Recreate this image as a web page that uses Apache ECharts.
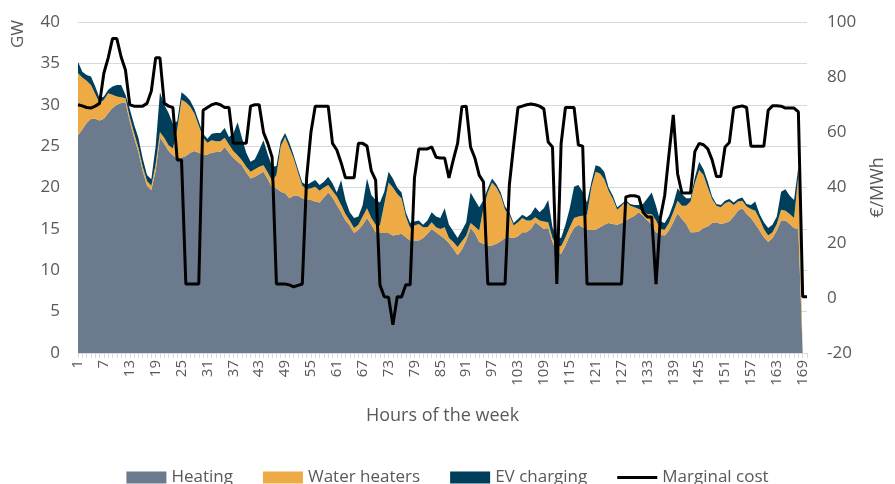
<!DOCTYPE html>
<html>
<head>
<meta charset="utf-8">
<script src="https://cdn.jsdelivr.net/npm/echarts@6/dist/echarts.min.js"></script>
<style>html,body{margin:0;padding:0;background:#fff}#c{width:895px;height:484px}</style>
</head>
<body>
<div id="c"></div>
<script>
// Hours of the week (category axis, 170 slots; area data covers 169 hours)
var hours = [];
for (var i = 1; i <= 170; i++) hours.push(String(i));

var heating = [26.3,27.0,27.8,28.3,28.3,28.1,28.3,29.0,29.6,30.0,30.2,30.3,28.0,26.0,24.3,22.0,20.2,19.7,22.0,26.0,
25.3,24.4,23.9,23.5,23.6,23.8,24.2,24.4,24.2,23.9,24.0,24.2,24.3,24.3,24.9,24.2,23.6,23.1,22.7,21.8,
21.1,21.3,21.6,21.9,21.0,20.0,19.9,19.5,19.3,18.7,19.0,19.0,18.7,18.5,18.5,18.3,18.2,18.8,19.4,18.8,
17.9,17.0,16.0,15.4,14.5,14.9,15.5,16.3,15.5,14.6,14.5,14.5,14.5,14.2,14.3,14.4,14.0,13.6,13.6,13.6,
13.9,14.4,15.0,14.6,14.2,13.8,13.3,12.6,11.8,12.5,13.6,15.1,14.5,13.4,13.2,13.0,13.0,13.2,13.5,13.9,
14.0,13.9,14.1,14.6,14.6,15.0,15.8,15.4,15.0,15.1,13.4,12.2,12.0,13.0,14.2,15.1,15.5,15.2,14.9,14.9,
14.9,15.2,15.5,15.7,15.6,15.5,15.7,16.0,16.3,16.6,17.0,16.6,16.0,15.5,14.6,14.3,14.2,14.8,15.8,16.9,
16.2,15.6,14.6,14.6,14.7,15.1,15.3,15.7,15.8,15.6,15.7,15.9,16.5,17.2,17.5,16.8,16.3,15.6,14.8,14.0,
13.4,13.9,14.8,16.0,16.0,15.6,15.1,15.0,0];

var waterHeaters = [7.5,6.3,5.1,4.1,3.0,2.1,2.3,2.4,1.6,1.0,0.7,0.5,0.5,0.6,0.5,0.5,0.6,0.5,0.8,0.7,
0.7,0.7,0.8,3.5,7.0,6.5,5.6,4.5,3.3,2.1,1.4,1.5,1.3,1.3,1.1,1.0,0.8,0.8,0.6,0.7,
0.8,0.9,0.9,0.8,0.8,0.8,1.6,5.5,6.8,6.1,4.5,2.8,1.5,1.3,1.4,1.8,1.4,1.2,0.9,0.8,
1.0,0.9,0.8,0.6,0.6,0.6,1.0,1.2,0.8,0.9,0.9,3.5,6.1,5.8,4.9,4.3,2.5,1.5,1.8,2.0,
1.3,0.8,0.8,0.6,0.8,1.4,0.6,0.8,1.0,1.0,0.6,0.6,0.8,1.4,4.3,6.4,7.6,6.8,5.5,3.4,
2.7,1.5,1.7,1.7,1.4,1.0,0.6,0.6,0.9,0.7,0.5,0.8,0.9,1.0,1.0,1.2,1.0,1.4,1.8,5.1,
7.0,6.5,5.5,3.9,3.0,1.8,2.1,2.3,1.5,1.0,0.4,0.5,0.8,1.3,1.4,0.7,0.7,0.9,1.2,1.5,
1.6,2.2,3.7,5.9,7.4,6.4,4.7,2.9,2.0,2.0,2.4,2.4,1.4,1.1,0.9,0.9,1.1,1.6,1.4,1.0,
0.8,0.7,0.8,1.3,1.2,1.2,1.2,6.5,0];

var evCharging = [1.4,0.7,0.7,1.0,0.9,0.6,0.4,0.4,1.0,1.4,1.5,0.4,1.0,1.0,1.2,1.0,0.7,0.8,2.2,4.8,
4.0,3.9,3.0,1.0,0.9,0.8,0.7,0.6,0.5,0.5,0.5,0.8,1.0,1.0,1.2,0.9,2.1,4.0,2.7,1.7,
1.2,1.2,2.0,3.0,2.2,1.7,1.1,0.6,0.5,0.6,0.4,0.4,0.4,0.5,0.7,0.8,0.7,0.7,1.0,0.9,
0.5,3.0,1.7,1.0,1.2,1.0,1.4,3.6,2.8,3.0,2.8,1.5,1.3,1.1,0.8,0.7,0.5,0.6,0.5,0.4,
0.3,0.8,1.2,1.3,1.3,2.3,1.6,1.3,1.1,1.3,1.6,3.7,3.2,2.8,1.0,0.5,0.5,0.4,0.4,0.4,
0.3,0.3,0.4,0.4,0.4,0.8,1.2,1.0,1.6,2.7,1.3,1.0,1.0,1.5,2.3,3.8,3.8,2.9,1.5,0.6,
0.8,0.8,0.9,0.4,0.4,0.3,0.2,0.2,0.2,0.3,0.5,0.9,1.9,2.6,1.8,0.9,0.8,0.9,1.0,1.5,
1.4,0.9,0.4,0.7,1.0,0.7,0.7,0.3,0.2,0.3,0.3,0.3,0.3,0.3,0.4,0.3,0.5,1.1,0.6,0.8,
0.9,0.9,0.9,2.2,2.6,2.2,2.2,1.0,0];

var marginalCost = [70,69.6,69,68.8,69.5,70.5,81.5,87,94,94,87.3,82.6,70,69.5,69.5,69.5,70.5,75,87,87,
70.5,69.5,69,50,50,5,5,5,5,68,69,70,70.5,70,69,69,56,56,56,56,
69.5,70,70,60,56,51,5,5,5,4.7,4,4.5,5,43.5,60,69.5,69.5,69.5,69.5,56,
53.6,49,43.5,43.5,43.5,56,56,55,46,42.7,4.7,0.4,0.2,-9.8,0.4,0.3,4.7,4.7,43.5,54,
54,54,54.7,51,50.7,50.7,43.5,50,56,69.3,69.5,54.7,50.7,44.5,42,5,5,5,5,5,
41,55.4,69,69.5,70,70.3,70,69.5,68.5,56.5,54.7,5,56,69,69,69,55.4,55,5,5,
5,5,5,5,5,5,5,36.6,37,37,36.6,31,29.3,29.3,5,29,37,52,66.3,45,
38,38,38,53,56,55.5,54,50,44,44,54.7,56.3,68.8,69.3,69.6,69,55,55,55,55,
68,69.6,69.6,69.5,68.8,68.8,68.8,67.4,0.4,0.4];

var yLeftTicks = {min: 0, max: 40, interval: 5};
var yRightTicks = {min: -20, max: 100, interval: 20};

var FONT = 'Open Sans';
var TXT = '#595959';
var chart = echarts.init(document.getElementById('c'), null, {renderer: 'canvas'});
chart.setOption({
  animation: false,
  textStyle: {fontFamily: FONT},
  grid: {left: 78, right: 80, top: 22, bottom: 131, containLabel: false},
  legend: {
    top: 464, left: 'center', itemWidth: 40, itemHeight: 12, itemGap: 30,
    textStyle: {fontFamily: FONT, fontSize: 17, color: TXT},
    data: [
      {name: 'Heating', icon: 'rect'},
      {name: 'Water heaters', icon: 'rect'},
      {name: 'EV charging', icon: 'rect'},
      {name: 'Marginal cost', icon: 'path://M0,0H40V3H0Z', itemStyle: {color: '#000'}}
    ]
  },
  graphic: [{
    type: 'text', x: 18, y: 34, rotation: Math.PI / 2,
    style: {text: 'GW', fontFamily: FONT, fontSize: 17, fill: TXT, align: 'center', verticalAlign: 'middle'}
  }],
  xAxis: {
    type: 'category', data: hours, boundaryGap: false,
    name: 'Hours of the week', nameLocation: 'middle', nameGap: 54,
    nameTextStyle: {fontFamily: FONT, fontSize: 18, color: TXT},
    axisLine: {lineStyle: {color: '#d9d9d9'}},
    axisTick: {show: true, interval: 0, length: 5, lineStyle: {color: '#d9d9d9'}},
    axisLabel: {rotate: 90, interval: function (i) { return i % 6 === 0; }, fontSize: 15, color: TXT, margin: 7, fontFamily: FONT},
    splitLine: {show: false}
  },
  yAxis: [{
    type: 'value', min: yLeftTicks.min, max: yLeftTicks.max, interval: yLeftTicks.interval,
    axisLine: {show: false}, axisTick: {show: false},
    axisLabel: {fontSize: 17, color: TXT, margin: 18, fontFamily: FONT},
    splitLine: {lineStyle: {color: '#d9d9d9', width: 1}}
  }, {
    type: 'value', min: yRightTicks.min, max: yRightTicks.max, interval: yRightTicks.interval,
    name: '€/MWh', nameLocation: 'middle', nameRotate: 90, nameGap: 62,
    nameTextStyle: {fontFamily: FONT, fontSize: 18, color: TXT},
    axisLine: {show: false}, axisTick: {show: false},
    axisLabel: {fontSize: 17, color: TXT, margin: 20, fontFamily: FONT},
    splitLine: {show: false}
  }],
  series: [{
    name: 'Heating', type: 'line', stack: 'gw', data: heating, symbol: 'none',
    itemStyle: {color: '#6b7a8c'}, lineStyle: {width: 0}, areaStyle: {color: '#6b7a8c', opacity: 1}
  }, {
    name: 'Water heaters', type: 'line', stack: 'gw', data: waterHeaters, symbol: 'none',
    itemStyle: {color: '#eeab45'}, lineStyle: {width: 0}, areaStyle: {color: '#eeab45', opacity: 1}
  }, {
    name: 'EV charging', type: 'line', stack: 'gw', data: evCharging, symbol: 'none',
    itemStyle: {color: '#003f5c'}, lineStyle: {width: 0}, areaStyle: {color: '#003f5c', opacity: 1}
  }, {
    name: 'Marginal cost', type: 'line', yAxisIndex: 1, data: marginalCost, symbol: 'none',
    itemStyle: {color: '#000'}, lineStyle: {color: '#000', width: 3}, z: 5
  }]
});
</script>
</body>
</html>
